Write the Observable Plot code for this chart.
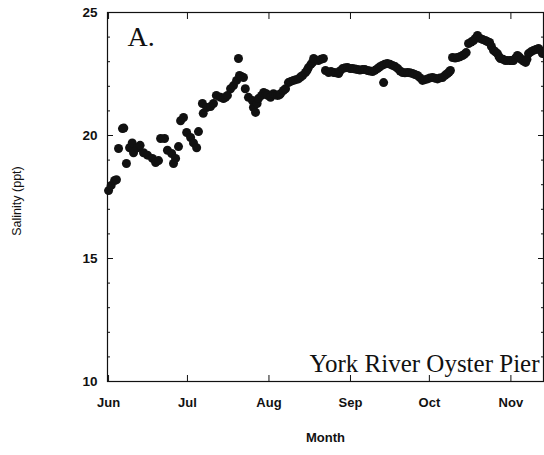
<!DOCTYPE html>
<html>
<head>
<meta charset="utf-8">
<script src="https://cdn.jsdelivr.net/npm/d3@7"></script>
<script src="https://cdn.jsdelivr.net/npm/@observablehq/plot@0.6"></script>
<style>
  html, body { margin: 0; padding: 0; background: #fff; }
  svg { display: block; }
</style>
</head>
<body>
<div id="chart"></div>
<script>
// Days since June 1 and salinity (ppt)
const days = [0, 1, 2.3, 3, 3.8, 5.3, 5.8, 6.8, 8, 9, 9.5, 11, 12, 13.3, 14.8, 16.7, 17.9, 19, 19.8, 21.3,
  22.4, 24, 24.7, 25.5, 26.6, 27.4, 28.5, 29.7, 31.2, 32.3, 33.5, 34.2, 35.7, 36, 37.3, 38.8, 39.9, 41, 42.6, 43.7,
  44.5, 45.2, 46.4, 47.5, 48.7, 49.4, 49.8, 50.5, 51.3, 52, 53.2, 54.7, 55.1, 55.9, 56.5, 57, 58.2, 59, 60, 60.5,
  61.6, 62.7, 63.5, 64.3, 65, 65.4, 66.5, 67.3, 68.4, 69.3, 70.3, 71.2, 72.2, 73, 73.8, 74.9, 75.5, 76, 77, 77.6,
  78, 79.8, 80.8, 81.7, 82.5, 83.7, 84.6, 85.6, 86.5, 87.5, 88, 89, 90, 90.9, 91.9, 92.8, 93.8, 94.7, 95.6, 96.6,
  97.5, 98.5, 99.4, 100.4, 101.3, 102.3, 103, 104, 104.6, 105, 106, 107, 108, 109, 110, 110.9, 111.8, 112.7, 113.7, 114.6,
  115.6, 116.5, 117.5, 118.4, 119.4, 120.3, 121.3, 122.2, 123.2, 124.1, 125.1, 126, 127, 128, 128.9, 129.5, 130, 130.8, 131.8, 132.7,
  133.6, 134.6, 135.3, 136, 136.9, 137.9, 138.8, 139.5, 140.3, 141.4, 142.3, 143.3, 144, 144.9, 145.6, 146.4, 147.1, 147.9, 148.5, 149,
  150, 150.9, 151.9, 152.9, 153.5, 154, 154.8, 155.5, 156.3, 157, 157.8, 158.6, 159.1, 159.7, 160.6, 161.6, 162.5, 163.5, 164.3, 165];
const salinity = [17.76, 17.97, 18.17, 18.2, 19.47, 20.28, 20.3, 18.86, 19.5, 19.7, 19.3, 19.5, 19.6, 19.3, 19.2, 19.07, 18.9, 18.98, 19.88, 19.88,
  19.4, 19.27, 18.86, 19.07, 19.55, 20.6, 20.73, 20.12, 19.92, 19.7, 19.5, 20.16, 21.3, 20.9, 21.14, 21.18, 21.3, 21.63, 21.55, 21.5,
  21.55, 21.63, 21.9, 22.03, 22.24, 23.13, 22.44, 22.4, 22.36, 21.9, 21.55, 21.42, 21.14, 20.94, 21.3, 21.5, 21.63, 21.75, 21.7, 21.63,
  21.55, 21.7, 21.65, 21.63, 21.65, 21.7, 21.83, 21.9, 22.15, 22.2, 22.24, 22.27, 22.3, 22.38, 22.44, 22.56, 22.65, 22.76, 22.9, 22.97,
  23.13, 23.05, 23.1, 23.13, 22.64, 22.56, 22.6, 22.56, 22.55, 22.52, 22.62, 22.72, 22.75, 22.76, 22.72, 22.72, 22.7, 22.68, 22.66, 22.68,
  22.68, 22.64, 22.62, 22.6, 22.65, 22.72, 22.78, 22.85, 22.15, 22.9, 22.93, 22.9, 22.85, 22.8, 22.72, 22.62, 22.56, 22.55, 22.56, 22.55,
  22.52, 22.48, 22.44, 22.35, 22.24, 22.27, 22.3, 22.34, 22.36, 22.33, 22.3, 22.34, 22.36, 22.45, 22.52, 22.58, 22.64, 23.17, 23.15, 23.17,
  23.2, 23.25, 23.3, 23.37, 23.74, 23.8, 23.86, 23.95, 24.07, 23.94, 23.9, 23.86, 23.82, 23.78, 23.62, 23.46, 23.4, 23.33, 23.2, 23.13,
  23.1, 23.05, 23.05, 23.05, 23.05, 23.05, 23.15, 23.25, 23.18, 23.09, 23.03, 22.97, 23.1, 23.33, 23.4, 23.46, 23.5, 23.54, 23.45, 23.33];

const monthDays = [0, 30, 61, 92, 122, 153];
const monthNames = ["Jun", "Jul", "Aug", "Sep", "Oct", "Nov"];
const yMajor = [10, 15, 20, 25];
const yMinor = [11, 12, 13, 14, 16, 17, 18, 19, 21, 22, 23, 24];
const panelLabel = ["A."];
const siteLabel = ["York River Oyster Pier"];

const data = days.map((d, i) => ({day: d, sal: salinity[i]}));
const monthFmt = d => monthNames[monthDays.indexOf(d)];

const sans = "Liberation Sans, Arial, sans-serif";
const serif = "Liberation Serif, Times New Roman, serif";

const chart = Plot.plot({
  width: 544,
  height: 455,
  marginLeft: 107,
  marginRight: 1,
  marginTop: 12,
  marginBottom: 74,
  style: {fontFamily: sans, fontSize: "14px", color: "#111", background: "#fff"},
  x: {domain: [-0.4, 165.4]},
  y: {domain: [10, 25]},
  marks: [
    Plot.frame({stroke: "#111", strokeWidth: 1.2}),
    // bottom axis: labels + inward ticks
    Plot.axisX({anchor: "bottom", ticks: monthDays, tickFormat: monthFmt, tickSize: 0, tickPadding: 16, label: null, fontSize: 13, fontWeight: "bold"}),
    Plot.axisX({anchor: "bottom", ticks: monthDays, tickSize: -6, fill: "none", label: null, tickFormat: () => ""}),
    Plot.axisX({anchor: "top", ticks: monthDays, tickSize: -6, fill: "none", label: null, tickFormat: () => ""}),
    // left axis
    Plot.axisY({anchor: "left", ticks: yMajor, tickSize: 0, tickPadding: 10, label: null, fontSize: 13.5, fontWeight: "bold"}),
    Plot.axisY({anchor: "left", ticks: yMajor, tickSize: -6, fill: "none", label: null, tickFormat: () => ""}),
    Plot.axisY({anchor: "left", ticks: yMinor, tickSize: -3, fill: "none", label: null, tickFormat: () => ""}),
    Plot.axisY({anchor: "right", ticks: yMajor, tickSize: -6, fill: "none", label: null, tickFormat: () => ""}),
    Plot.axisY({anchor: "right", ticks: yMinor, tickSize: -3, fill: "none", label: null, tickFormat: () => ""}),
    Plot.dot(data, {x: "day", y: "sal", r: 4.5, fill: "#111", stroke: "none"}),
    Plot.text(panelLabel, {text: d => d, frameAnchor: "top-left", dx: 20, dy: 33, textAnchor: "start", lineAnchor: "bottom", fontFamily: serif, fontSize: 28, fill: "#111"}),
    Plot.text(siteLabel, {text: d => d, frameAnchor: "bottom-right", dx: -4, dy: -10, textAnchor: "end", lineAnchor: "bottom", fontFamily: serif, fontSize: 25, fill: "#111"}),
    Plot.text(["Month"], {text: d => d, frameAnchor: "bottom", dy: 56, lineAnchor: "middle", fontSize: 13, fontWeight: "bold", fill: "#111"}),
    Plot.text(["Salinity (ppt)"], {text: d => d, frameAnchor: "left", dx: -91, dy: 4, rotate: -90, textAnchor: "middle", lineAnchor: "middle", fontSize: 12.5, fill: "#111"})
  ]
});
document.getElementById("chart").appendChild(chart);
</script>
</body>
</html>
